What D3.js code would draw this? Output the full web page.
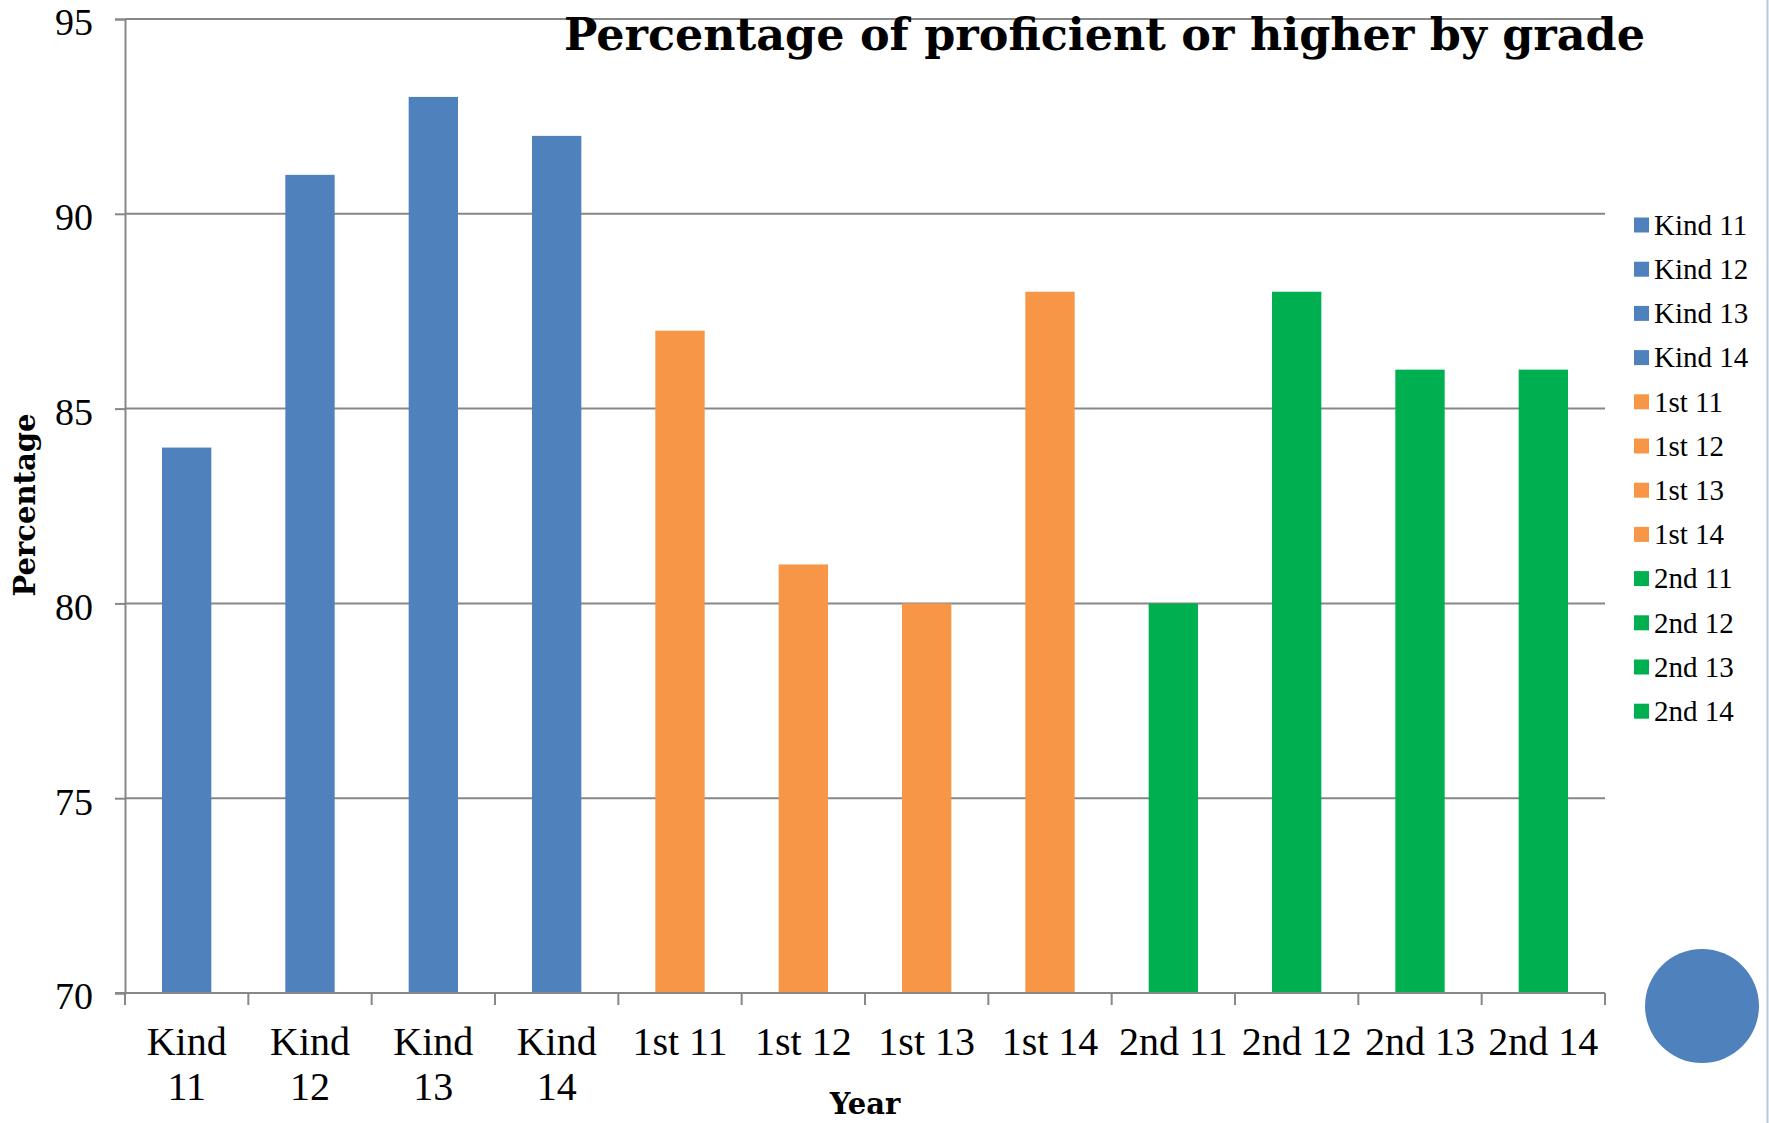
<!DOCTYPE html>
<html>
<head>
<meta charset="utf-8">
<script src="https://cdn.jsdelivr.net/npm/d3@7"></script>
<style>
  html, body { margin: 0; padding: 0; background: #ffffff; }
  svg { display: block; }
</style>
</head>
<body>
<svg id="chart" width="1769" height="1123"></svg>
<script>
// ---- data ----
const categories = ["Kind 11","Kind 12","Kind 13","Kind 14","1st 11","1st 12","1st 13","1st 14","2nd 11","2nd 12","2nd 13","2nd 14"];
const values = [84, 91, 93, 92, 87, 81, 80, 88, 80, 88, 86, 86];
const groups = ["Kind","Kind","Kind","Kind","1st","1st","1st","1st","2nd","2nd","2nd","2nd"];
const groupColors = {"Kind": "#4F81BD", "1st": "#F79646", "2nd": "#00B050"};
const yTicks = [70, 75, 80, 85, 90, 95];
const chartTitle = "Percentage of proficient or higher by grade";
const xTitle = "Year";
const yTitle = "Percentage";

// ---- layout ----
const svg = d3.select("#chart");
const plotLeft = 125, plotRight = 1605, plotTop = 19, plotBottom = 993;
const serif = "'Liberation Serif', 'Times New Roman', serif";
const boldSerif = "'DejaVu Serif', serif";
const gridColor = "#878787";

const x = d3.scaleBand().domain(categories).range([plotLeft, plotRight]).paddingInner(0.6).paddingOuter(0.3);
const y = d3.scaleLinear().domain([70, 95]).range([plotBottom, plotTop]);
const xIdx = d3.scaleLinear().domain([0, categories.length]).range([plotLeft, plotRight]);

// gridlines
svg.append("g").selectAll("line").data(yTicks.filter(t => t !== 70)).join("line")
  .attr("x1", plotLeft).attr("x2", plotRight)
  .attr("y1", d => y(d)).attr("y2", d => y(d))
  .attr("stroke", gridColor).attr("stroke-width", 2);

// bars
svg.append("g").selectAll("rect").data(categories).join("rect")
  .attr("x", d => x(d))
  .attr("width", x.bandwidth())
  .attr("y", (d, i) => y(values[i]))
  .attr("height", (d, i) => y(70) - y(values[i]))
  .attr("fill", (d, i) => groupColors[groups[i]]);

// y axis
const yAxis = d3.axisLeft(y).tickValues(yTicks).tickSize(10).tickPadding(22);
const gy = svg.append("g").attr("transform", `translate(${plotLeft},0)`).call(yAxis);
gy.select(".domain").attr("stroke", gridColor).attr("stroke-width", 2);
gy.selectAll(".tick line").attr("stroke", gridColor).attr("stroke-width", 2);
gy.selectAll(".tick text").attr("font-family", serif).attr("font-size", 38).attr("fill", "#000")
  .attr("dy", "0.42em");

// x axis line + boundary ticks
svg.append("line").attr("x1", plotLeft - 10).attr("x2", plotRight).attr("y1", plotBottom).attr("y2", plotBottom)
  .attr("stroke", gridColor).attr("stroke-width", 2);
svg.append("g").selectAll("line").data(d3.range(categories.length + 1)).join("line")
  .attr("x1", d => xIdx(d)).attr("x2", d => xIdx(d))
  .attr("y1", plotBottom).attr("y2", plotBottom + 12)
  .attr("stroke", gridColor).attr("stroke-width", 2);

// x labels with wrapping
const xl = svg.append("g").selectAll("text").data(categories).join("text")
  .attr("x", d => x(d) + x.bandwidth() / 2)
  .attr("y", 1055)
  .attr("text-anchor", "middle")
  .attr("font-family", serif).attr("font-size", 40).attr("fill", "#000")
  .text(d => d);
xl.each(function(d) {
  const t = d3.select(this);
  if (this.getComputedTextLength() > x.step()) {
    const words = d.split(" ");
    t.text(null);
    words.forEach((w, i) => {
      t.append("tspan").attr("x", x(d) + x.bandwidth() / 2).attr("dy", i === 0 ? 0 : 45).text(w);
    });
  }
});

// axis titles
svg.append("text").attr("x", 865).attr("y", 1114).attr("text-anchor", "middle")
  .attr("font-family", boldSerif).attr("font-weight", "bold").attr("font-size", 29).attr("fill", "#000")
  .text(xTitle);
svg.append("text").attr("transform", "translate(35,505) rotate(-90)").attr("text-anchor", "middle")
  .attr("font-family", boldSerif).attr("font-weight", "bold").attr("font-size", 29).attr("fill", "#000")
  .text(yTitle);

// title
svg.append("text").attr("x", 564).attr("y", 50)
  .attr("font-family", boldSerif).attr("font-weight", "bold").attr("font-size", 44).attr("fill", "#000")
  .attr("textLength", 1081).attr("lengthAdjust", "spacingAndGlyphs")
  .text(chartTitle);

// legend
const legY = d3.scaleLinear().domain([0, 1]).range([225, 225 + 44.2]);
const leg = svg.append("g").selectAll("g").data(categories).join("g")
  .attr("transform", (d, i) => `translate(1634,${legY(i)})`);
leg.append("rect").attr("x", 0).attr("y", -7.5).attr("width", 15).attr("height", 15)
  .attr("fill", (d, i) => groupColors[groups[i]]);
leg.append("text").attr("x", 20).attr("y", 0).attr("dy", "0.34em")
  .attr("font-family", serif).attr("font-size", 29).attr("fill", "#000")
  .text(d => d);

// decorative circle
svg.append("circle").attr("cx", 1702).attr("cy", 1006).attr("r", 57).attr("fill", "#4F81BD");

// right edge line
svg.append("line").attr("x1", 1767.5).attr("x2", 1767.5).attr("y1", 0).attr("y2", 1123)
  .attr("stroke", "#b8c8dc").attr("stroke-width", 2);
</script>
</body>
</html>
